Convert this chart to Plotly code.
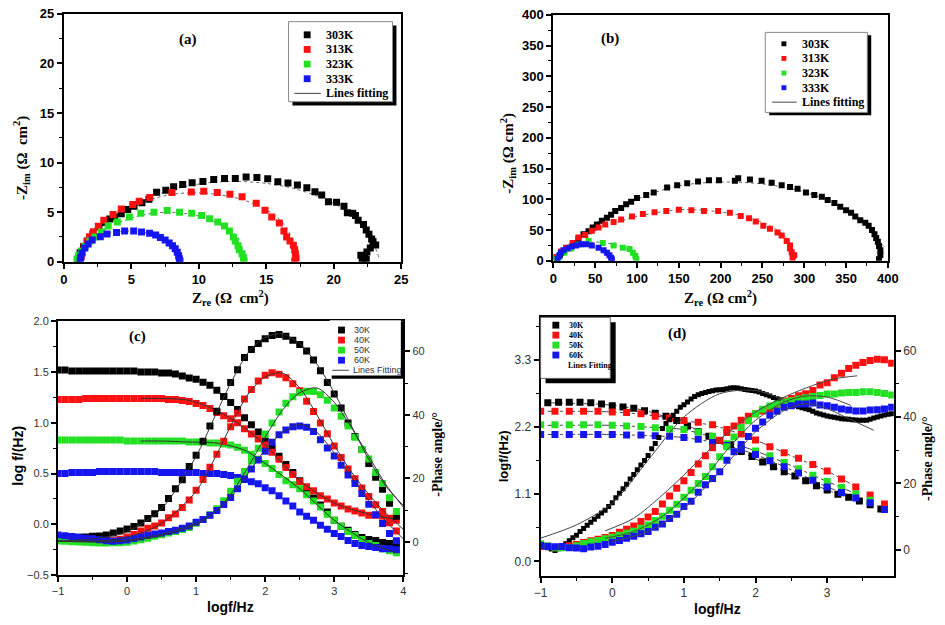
import plotly.graph_objects as go
import numpy as np

W, H = 945, 625
BLK, RED, GRN, BLU = "#000000", "#FF1010", "#22E022", "#1515F0"
SERIF = "Liberation Serif"
SANS = "Liberation Sans"

# ---------------- Panel (a): Nyquist, Zre / -Zim ----------------
a303_re = [1.05,1.2,1.45,1.75,2.15,2.6,3.0,3.4,3.76,4.25,4.73,5.2,5.78,6.3,6.87,7.55,8.13,8.8,9.5,10.3,11.1,11.9,12.7,13.5,14.3,15.1,15.85,16.6,17.3,18.0,18.6,19.1,19.6,20.2,20.75,21.0,21.4,21.6,21.8,22.2,22.4,22.6,22.8,22.9,23.1,22.7,22.45,22.3,22.0,22.4,22.1]
a303_im = [0.3,0.9,1.5,2.1,2.8,3.5,3.95,4.3,4.5,4.84,5.26,5.6,5.95,6.3,7.0,7.2,7.57,7.8,7.96,8.1,8.3,8.4,8.4,8.55,8.5,8.36,8.06,7.93,7.73,7.47,7.07,6.74,6.05,6.0,5.6,4.93,4.9,4.67,4.18,3.75,3.2,2.76,2.3,2.04,1.7,1.38,0.99,0.56,0.66,0.23,0.13]
a313_re = [1.29,1.33,1.5,1.7,1.9,2.18,2.55,2.96,3.64,4.25,5.1,5.58,6.36,8.0,9.44,10.36,11.36,12.3,13.2,14.25,14.9,15.4,15.96,16.3,16.5,16.75,17.0,17.1,17.15,17.2,17.1]
a313_im = [0.56,1.05,1.55,2.04,2.53,3.03,3.59,4.18,4.77,5.33,5.76,6.09,6.48,6.97,7.04,7.1,6.97,6.8,6.55,5.9,5.2,4.5,3.9,3.1,2.5,2.1,1.65,1.2,0.8,0.4,0.07]
a323_re = [0.97,1.1,1.29,1.58,1.94,2.3,2.79,3.28,3.96,4.85,5.7,6.67,7.65,8.57,9.47,10.2,10.8,11.4,11.9,12.26,12.55,12.7,12.9,13.0,13.2,13.3,13.35]
a323_im = [0.23,0.66,1.05,1.55,2.1,2.5,3.0,3.6,4.0,4.5,4.9,5.0,5.16,5.0,4.9,4.67,4.34,4.0,3.6,3.1,2.5,2.1,1.6,1.2,0.8,0.4,0.07]
a333_re = [1.21,1.25,1.35,1.55,1.8,2.1,2.7,3.2,3.9,4.5,5.17,5.75,6.35,6.8,7.15,7.5,7.8,8.05,8.25,8.4,8.5,8.55,8.6]
a333_im = [0.07,0.46,0.89,1.38,1.78,2.2,2.53,2.8,2.96,3.09,3.09,3.0,2.86,2.7,2.45,2.2,1.9,1.6,1.3,0.95,0.6,0.3,0.07]
a303_fit_re = [1.0,2.0,3.5,5.0,7.0,9.0,11.0,13.0,15.0,17.0,19.0,20.5,21.5,22.4,23.0,23.4]
a303_fit_im = [0.0,3.0,4.6,5.6,6.8,7.6,8.0,8.1,7.9,7.4,6.5,5.5,4.5,2.9,1.6,0.2]
a313_fit_re = [1.0,1.5,2.5,4.0,6.0,8.0,9.5,11.0,13.0,14.5,15.7,16.5,17.0,17.3]
a313_fit_im = [0.0,1.8,3.5,4.9,6.1,6.8,6.95,6.85,6.35,5.6,4.6,3.4,2.0,0.3]
a323_fit_re = [1.0,1.5,2.5,4.0,5.5,7.0,8.5,10.0,11.2,12.2,12.8,13.1,13.3]
a323_fit_im = [0.0,1.5,2.8,3.9,4.6,4.95,4.95,4.6,4.0,3.1,2.1,1.0,0.1]
a333_fit_re = [1.2,1.6,2.5,3.5,4.5,5.5,6.5,7.3,7.9,8.3,8.55]
a333_fit_im = [0.0,1.3,2.4,2.9,3.08,3.05,2.75,2.2,1.5,0.8,0.1]

# ---------------- Panel (b): Nyquist ----------------
b303_re = [4,8,13,19,25,30,36,42,47,52,58,64,69,74,81,87,93,100,111,120,136,148,160,173,186,198,217,221,235,249,261,273,283,292,302,312,321,328,336,343,350,356,361,367,373,377,381,384,386,388,389.4,391,391,389.4]
b303_im = [4,9.5,15,21,29,36,43,48,54,59,65,70,75,81,86,92,96,102,107,111,119,123,126,129,131,131,130,134,132,130,127,123,120,117,111,107,104,99,94,88,82,78,72,66,62,57,50,43,37,31,24,17,9.5,2.6]
b313_re = [3,9,15,23,30,38,46,54,62,72,81,94,107,121,135,150,165,180,197,211,224,234,242,251,259,268,273,279,283,283,285,288,286]
b313_im = [6,15,21,29,38,42,49,54,59,63,67,72,76,79,81,83,82,81,81,78,73,69,64,57,52,46,41,32,25,20,14,9,5]
b323_re = [4,7,13,21,30,42,59,72,83,91,95,98,99]
b323_im = [3,6,13,20,26,32,29,25,21,19,13,8,2.6]
b333_re = [5,7,9,12,17,22,27,33,39,46,54,60,64,67,69,70]
b333_im = [3,8,13,17,20,23,25,27,27,25,21,17,13,9,5,2]
b303_fit_re = [20,50,100,150,200,250,300,340,370,385,397]
b303_fit_im = [25,60,100,122,128,125,112,90,62,38,21]
b313_fit_re = [30,60,100,150,180,220,250,270,283,288]
b313_fit_im = [35,55,72,83,82,75,62,48,30,10]
b323_fit_re = [30,45,60,75,90,100]
b323_fit_im = [28,30,30,25,17,3]

# ---------------- Panel (c): Bode ----------------
c_logf = np.round(np.arange(-1.0, 3.95, 0.1), 2)
c30_mod = [1.52,1.52,1.51,1.51,1.51,1.51,1.51,1.51,1.51,1.51,1.51,1.51,1.50,1.50,
           1.50,1.49,1.49,1.48,1.46,1.44,1.43,1.40,1.37,1.32,1.26,1.20,1.13,1.05,0.98,0.91,0.82,0.75,0.67,0.59,0.51,0.43,0.33,0.26,0.19,0.12,0.04,-0.02,-0.06,-0.10,-0.13,-0.15,-0.16,-0.18,-0.19,-0.19]
c40_mod = [1.23,1.23,1.23,1.23,1.24,1.24,1.24,1.24,1.24,1.24,1.24,1.24,1.24,1.24,1.24,1.24,1.23,
           1.23,1.22,1.21,1.19,1.17,1.14,1.10,1.07,1.04,1.00,0.94,0.89,0.84,0.78,0.71,0.64,0.56,0.49,0.42,0.37,0.33,0.28,0.25,0.21,0.18,0.15,0.13,0.11,0.09,0.09,0.08,0.06,0.04]
c50_mod = [0.83,0.83,0.83,0.83,0.83,0.83,0.83,0.83,0.83,0.83,0.82,0.82,0.82,0.82,0.82,0.82,
           0.82,0.82,0.82,0.81,0.81,0.81,0.80,0.80,0.79,0.78,0.76,0.73,0.69,0.64,0.60,0.55,0.49,0.43,0.39,0.35,0.29,0.23,0.17,0.10,0.04,-0.02,-0.07,-0.11,-0.15,-0.19,-0.21,-0.24,-0.26,-0.28]
c60_mod = [0.50,0.50,0.51,0.51,0.51,0.51,0.52,0.52,0.52,0.52,0.52,0.52,0.52,0.52,0.52,0.51,0.51,
           0.51,0.51,0.51,0.51,0.50,0.50,0.50,0.49,0.48,0.46,0.44,0.42,0.40,0.36,0.33,0.28,0.23,0.18,0.12,0.08,0.04,-0.01,-0.05,-0.09,-0.12,-0.16,-0.19,-0.21,-0.22,-0.23,-0.24,-0.24,-0.25]
c30_phase = [1.5,1.4,1.4,1.5,1.6,1.8,1.9,2.2,2.8,3.5,4.1,4.9,6.0,7.4,8.9,10.9,13.7,16.8,19.6,23.8,27.3,31.7,36.5,41.2,45.8,50.2,54.2,58.1,60.6,62.5,64.0,65.0,65.3,64.8,63.5,62.2,60.1,57.3,53.9,50.2,46.6,42.2,37.5,33.2,29.1,24.7,20.4,16.6,12.2,8.1]
c40_phase = [0.8,0.6,0.5,0.3,0.2,0.1,0.0,0.2,0.4,0.9,1.6,2.4,3.5,4.3,5.0,6.0,7.6,8.8,10.9,13.2,16.3,19.7,23.5,27.6,31.7,36.3,40.5,45.0,48.0,50.7,52.5,53.3,52.8,51.7,49.8,47.6,44.3,41.1,37.5,34.1,30.2,26.6,23.0,19.9,17.0,14.3,11.7,9.6,6.1,3.5]
c50_phase = [0.3,0.2,0.1,0.0,-0.1,-0.2,-0.3,-0.3,-0.2,-0.2,-0.1,0.3,0.7,1.2,1.8,2.3,2.8,3.3,3.9,4.6,5.9,7.1,8.6,10.5,13.0,16.0,19.1,22.2,25.5,29.5,34.0,37.5,40.9,43.7,45.7,47.1,47.5,47.4,46.4,44.6,42.2,39.6,36.5,33.0,29.1,26.1,21.9,18.4,13.9,9.6]
c60_phase = [2.2,2.0,1.7,1.5,1.2,1.0,0.7,0.4,0.2,0.4,0.6,1.1,1.6,2.1,2.5,2.8,3.3,3.7,4.3,5.0,6.2,7.1,8.4,9.9,11.8,14.0,16.8,19.9,23.0,25.8,28.6,31.4,33.8,35.3,36.3,36.5,36.1,34.8,32.2,29.6,27.1,24.2,21.1,18.4,15.3,11.9,8.6,5.8,2.7,0.4]
c_fit_logf = [-1.0,-0.5,0.0,0.5,1.0,1.25,1.5,1.75,2.0,2.25,2.5,2.75,3.0,3.25,3.5,3.75,4.0]
c30_phase_fit = [0.3,1.0,3.2,10.5,27.0,38.5,50.0,59.5,64.5,65.5,62.5,56.0,47.0,36.5,26.0,17.5,11.5]
c40_phase_fit = [0.3,0.2,1.5,5.8,16.0,25.5,36.5,46.5,52.0,53.2,48.5,40.0,30.5,22.0,15.0,9.0,4.0]
c50_phase_fit = [0.3,0.0,0.3,2.0,5.5,9.0,15.0,23.5,33.0,41.5,47.0,48.5,44.0,36.0,27.0,18.0,11.0]
c60_phase_fit = [0.3,0.3,0.6,2.5,6.0,9.0,14.0,21.5,29.0,34.5,37.0,34.5,28.0,20.5,13.0,6.5,1.0]
c_modfit_logf = [0.2, 0.5, 0.9, 1.3, 1.7, 2.0, 2.5, 3.0, 3.5, 3.9]
c40_mod_fit = [1.24,1.24,1.22,1.12,0.95,0.78,0.43,0.21,0.10,0.05]
c50_mod_fit = [0.82,0.82,0.81,0.80,0.73,0.60,0.35,0.04,-0.18,-0.28]

# ---------------- Panel (d): Bode ----------------
d30_phase_logf = np.round(np.arange(-1.0, 3.92, 0.05), 2)
d30_phase = [1.5,1.0,0.6,0.2,-0.2,0.3,1.0,1.8,2.7,3.6,4.4,5.5,6.4,7.4,8.3,9.2,10.1,11.1,11.9,13.0,
             14.2,15.7,17.0,18.4,19.7,21.3,22.7,24.1,25.5,26.9,28.4,30.4,32.0,33.8,36.5,38.0,39.2,40.5,41.7,42.9,
             43.7,44.5,45.4,46.2,46.7,47.1,47.4,47.7,47.9,48.1,48.2,48.3,48.5,48.7,48.8,48.7,48.5,48.3,48.1,48.0,
             47.8,47.5,47.1,46.7,46.3,45.9,45.5,45.2,44.9,44.5,44.0,43.5,43.1,42.8,42.5,42.2,41.7,41.2,40.9,40.6,
             40.3,40.1,39.9,39.7,39.5,39.4,39.3,39.2,39.1,39.0,39.0,39.0,39.3,39.7,40.0,40.3,40.6,40.8,41.0]
d_phase_logf = np.round(np.arange(-1.0, 3.95, 0.1), 2)
d40_phase = [1.0,1.1,0.6,0.9,1.2,1.6,2.2,2.7,3.2,3.7,4.3,5.3,6.2,7.2,8.5,9.9,11.5,13.8,16.2,18.5,20.8,23.3,25.8,28.3,30.7,33.0,35.3,37.3,39.0,40.2,41.0,41.8,42.5,43.7,44.8,45.6,46.4,47.0,48.0,49.6,50.3,51.8,53.2,54.6,55.6,56.4,57.0,57.4,57.2,56.2]
d50_phase = [1.8,1.2,0.6,0.6,0.7,1.2,1.9,2.4,2.8,3.3,3.8,4.4,5.0,5.6,6.5,7.5,8.8,10.1,11.9,13.7,15.8,17.9,20.0,22.1,25.0,28.0,31.0,34.0,36.8,38.9,41.0,42.3,43.3,43.9,44.5,44.9,45.4,45.8,46.2,46.5,46.9,46.9,47.2,47.4,47.4,47.6,47.6,47.4,47.1,46.6]
d60_phase = [1.3,1.0,0.9,1.0,0.6,0.5,0.3,0.8,1.1,1.6,2.3,2.8,3.5,4.1,4.8,5.5,6.8,7.8,9.4,10.7,13.0,14.6,17.3,19.6,21.5,23.5,27.0,29.5,31.7,34.1,36.6,38.5,40.5,41.7,42.9,43.4,43.9,43.9,44.2,43.6,43.4,42.9,42.4,42.1,41.8,41.8,42.1,42.2,42.4,42.9]
d30_mod_logf = [-0.9,-0.75,-0.6,-0.45,-0.3,-0.15,0.0,0.15,0.3,0.45,0.6,0.75,0.9,1.05,1.2,1.35,1.5,1.65,1.8,1.95,2.1,2.25,2.4,2.55,2.7,2.85,3.0,3.15,3.3,3.45,3.6,3.75]
d30_mod = [2.60,2.61,2.61,2.61,2.60,2.58,2.55,2.53,2.51,2.47,2.43,2.38,2.31,2.22,2.13,2.05,1.98,1.91,1.80,1.72,1.63,1.55,1.47,1.40,1.32,1.24,1.17,1.10,1.05,0.99,0.93,0.86]
d_mod_logf = [-1.0,-0.8,-0.6,-0.4,-0.2,0.0,0.2,0.4,0.6,0.8,1.0,1.2,1.4,1.6,1.8,2.0,2.2,2.4,2.6,2.8,3.0,3.2,3.4,3.6,3.8]
d40_mod = [2.46,2.46,2.46,2.46,2.46,2.45,2.44,2.42,2.38,2.35,2.31,2.28,2.24,2.16,2.09,1.99,1.88,1.78,1.69,1.59,1.48,1.35,1.22,1.09,0.94]
d50_mod = [2.24,2.24,2.24,2.24,2.24,2.23,2.22,2.21,2.19,2.17,2.16,2.12,2.05,1.93,1.87,1.81,1.73,1.62,1.52,1.41,1.31,1.21,1.11,1.00]
d60_mod = [2.08,2.08,2.08,2.08,2.08,2.08,2.07,2.07,2.06,2.05,2.03,2.00,1.95,1.90,1.84,1.75,1.65,1.55,1.45,1.33,1.22,1.13,1.04,0.96,0.85]
d30_phase_fit_logf = [-1.0,-0.5,0.0,0.5,1.0,1.5,2.0,2.4]
d30_phase_fit = [3.5,7.5,14.0,27.0,40.0,47.0,48.0,45.0]
d40_phase_fit_logf = [-0.1,0.3,0.7,1.0,1.3,1.6,2.0,2.4,2.8,3.1,3.42]
d40_phase_fit = [5.7,9.5,16.5,22.5,29.0,35.0,41.5,46.0,49.5,51.5,52.4]
d50_phase_fit_logf = [-0.1,0.3,0.7,1.0,1.3,1.6,2.0,2.4,2.7,3.0,3.33]
d50_phase_fit = [3.5,5.5,10.0,15.5,22.0,30.0,39.0,44.5,46.3,46.0,43.5]
d60_phase_fit_logf = [0.0,0.5,1.0,1.5,2.0,2.4,2.7,3.0,3.3,3.65]
d60_phase_fit = [2.5,5.5,12.5,23.5,35.5,42.0,44.0,42.5,39.5,36.0]
d_modfit_logf = [-0.9,0.0,0.5,1.0,1.5,2.0,2.5,3.0,3.42]
d30_mod_fit = [2.60,2.56,2.46,2.25,1.98,1.68,1.42,1.17,0.99]
d40_mod_fit = [2.46,2.45,2.40,2.31,2.20,1.99,1.73,1.48,1.21]
d50_mod_fit = [2.23,2.23,2.20,2.16,2.00,1.81,1.57,1.31,1.10]
d60_mod_fit = [2.08,2.08,2.06,2.03,1.93,1.75,1.50,1.22,1.04]

legend_ab = ["303K", "313K", "323K", "333K", "Lines fitting"]
legend_c = ["30K", "40K", "50K", "60K", "Lines Fitting"]
legend_d = ["30K", "40K", "50K", "60K", "Lines Fitting"]
COLORS = [BLK, RED, GRN, BLU]

fig = go.Figure()

def sq(x, y, color, xa, ya, size=7):
    fig.add_trace(go.Scatter(x=x, y=y, mode="markers", xaxis=xa, yaxis=ya, showlegend=False,
                             marker=dict(symbol="square", size=size, color=color, line=dict(width=0))))

def ln(x, y, xa, ya, color="#555555", dash="solid", width=1):
    fig.add_trace(go.Scatter(x=x, y=y, mode="lines", xaxis=xa, yaxis=ya, showlegend=False,
                             line=dict(color=color, width=width, dash=dash, shape="spline", smoothing=0.8)))

# (a)
for fx_, fy_ in [(a303_fit_re, a303_fit_im), (a313_fit_re, a313_fit_im), (a323_fit_re, a323_fit_im), (a333_fit_re, a333_fit_im)]:
    ln(fx_, fy_, "x", "y", color="#666666", dash="dot")
sq(a303_re, a303_im, BLK, "x", "y")
sq(a313_re, a313_im, RED, "x", "y")
sq(a323_re, a323_im, GRN, "x", "y")
sq(a333_re, a333_im, BLU, "x", "y")
# (b)
for fx_, fy_ in [(b303_fit_re, b303_fit_im), (b313_fit_re, b313_fit_im), (b323_fit_re, b323_fit_im)]:
    ln(fx_, fy_, "x2", "y2", color="#666666", dash="dot")
sq(b303_re, b303_im, BLK, "x2", "y2", 6)
sq(b313_re, b313_im, RED, "x2", "y2", 6)
sq(b323_re, b323_im, GRN, "x2", "y2", 6)
sq(b333_re, b333_im, BLU, "x2", "y2", 6)
# (c)
for mod, col in [(c30_mod, BLK), (c40_mod, RED), (c50_mod, GRN), (c60_mod, BLU)]:
    sq(c_logf, mod, col, "x3", "y3")
for ph, col in [(c30_phase, BLK), (c40_phase, RED), (c50_phase, GRN), (c60_phase, BLU)]:
    sq(c_logf, ph, col, "x3", "y4")
for f in [c30_phase_fit, c40_phase_fit, c50_phase_fit, c60_phase_fit]:
    ln(c_fit_logf, f, "x3", "y4", color="#333333", width=1)
for f in [c40_mod_fit, c50_mod_fit]:
    ln(c_modfit_logf, f, "x3", "y3", color="#333333", width=1)
# (d)
for f in [d30_mod_fit, d40_mod_fit, d50_mod_fit, d60_mod_fit]:
    ln(d_modfit_logf, f, "x4", "y5", color="#444444", dash="dashdot", width=1)
sq(d30_mod_logf, d30_mod, BLK, "x4", "y5", 7)
sq(d_mod_logf, d40_mod, RED, "x4", "y5", 7)
sq(d_mod_logf[:len(d50_mod)], d50_mod, GRN, "x4", "y5", 7)
sq(d_mod_logf, d60_mod, BLU, "x4", "y5", 7)
sq(d30_phase_logf, d30_phase, BLK, "x4", "y6", 5)
sq(d_phase_logf, d40_phase, RED, "x4", "y6", 7)
sq(d_phase_logf, d50_phase, GRN, "x4", "y6", 7)
sq(d_phase_logf, d60_phase, BLU, "x4", "y6", 7)
for fx_, fy_ in [(d30_phase_fit_logf, d30_phase_fit), (d40_phase_fit_logf, d40_phase_fit),
                 (d50_phase_fit_logf, d50_phase_fit), (d60_phase_fit_logf, d60_phase_fit)]:
    ln(fx_, fy_, "x4", "y6", color="#444444", width=1)

def px(x):
    return x / W
def py(y):
    return 1 - y / H

def axis(dom, anchor, rng, dtick=None, minor_dtick=None, font=None, side=None, overlay=None,
         tickvals=None, ticktext=None, minor_vals=None, fmt=None, mirror=True, showline=True):
    d = dict(range=rng, anchor=anchor, showgrid=False, zeroline=False, showline=showline,
             linecolor="black", linewidth=2, mirror=mirror, ticks="outside", ticklen=5, tickwidth=1.5,
             tickcolor="black", tickfont=font, fixedrange=True)
    if dom is not None:
        d["domain"] = dom
    if dtick is not None:
        d["dtick"] = dtick
        d["tick0"] = 0
    if tickvals is not None:
        d["tickmode"] = "array"
        d["tickvals"] = tickvals
        if ticktext is not None:
            d["ticktext"] = ticktext
    if fmt:
        d["tickformat"] = fmt
    if minor_dtick is not None:
        d["minor"] = dict(ticks="outside", ticklen=3, tickwidth=1, tickcolor="black", dtick=minor_dtick, tick0=0)
    if minor_vals is not None:
        d["minor"] = dict(ticks="outside", ticklen=3, tickwidth=1, tickcolor="black", tickmode="array", tickvals=minor_vals)
    if side:
        d["side"] = side
    if overlay:
        d["overlaying"] = overlay
    return d

fab = dict(family=SANS, size=13, color="black", weight="bold")
fc = dict(family=SANS, size=11, color="#333333")
fd = dict(family=SANS, size=12, color="#333333")

layout = dict(
    width=W, height=H, margin=dict(l=0, r=0, t=0, b=0), paper_bgcolor="white", plot_bgcolor="white",
    xaxis=axis([px(58), px(402)], "y", [0, 25], 5, 2.5, fab),
    yaxis=axis([py(261), py(7)], "x", [0, 25], 5, 2.5, fab),
    xaxis2=axis([px(557), px(898)], "y2", [0, 400], 50, 25, fab),
    yaxis2=axis([py(260), py(8)], "x2", [0, 400], 50, 25, fab),
    xaxis3=axis([px(52), px(404)], "y3", [-1, 4], 1, 0.5, fc),
    yaxis3=axis([py(582), py(322)], "x3", [-0.5, 2.0], 0.5, 0.25, fc, fmt=".1f"),
    yaxis4=axis(None, "x3", [-10.4, 69.5], None, None, fc, side="right", overlay="y3",
                tickvals=[0, 20, 40, 60], minor_vals=[-10, 10, 30, 50]),
    xaxis4=axis([px(544), px(904)], "y5", [-1, 3.93], 1, 0.5, fd),
    yaxis5=axis([py(583), py(318)], "x4", [-0.24, 4.0], None, None, fd,
                tickvals=[0, 1.1, 2.2, 3.3], ticktext=["0.0", "1.1", "2.2", "3.3"], minor_vals=[0.55, 1.65, 2.75, 3.85]),
    yaxis6=axis(None, "x4", [-7.9, 70], None, None, fd, side="right", overlay="y5",
                tickvals=[0, 20, 40, 60], minor_vals=[10, 30, 50]),
)
fig.update_layout(**layout)

ann = []
shapes = []

def text(x, y, t, size, family, bold=True, color="black", angle=0, xanchor="center"):
    ann.append(dict(x=px(x), y=py(y), xref="paper", yref="paper", text=t, showarrow=False,
                    xanchor=xanchor, yanchor="middle", textangle=angle,
                    font=dict(size=size, family=family, color=color, weight="bold" if bold else "normal")))

def rect(x0, y0, x1, y1, fill, line_color=None, lw=0):
    shapes.append(dict(type="rect", xref="paper", yref="paper", x0=px(x0), x1=px(x1), y0=py(y1), y1=py(y0),
                       fillcolor=fill, line=dict(color=line_color or fill, width=lw), layer="above"))

def hline(x0, x1, y, color="#444444", w=1):
    shapes.append(dict(type="line", xref="paper", yref="paper", x0=px(x0), x1=px(x1), y0=py(y), y1=py(y),
                       line=dict(color=color, width=w), layer="above"))

# panel labels
text(185, 33, "(a)", 15, SERIF)
text(615, 32, "(b)", 15, SERIF)
text(133, 338, "(c)", 15, SERIF)
text(683, 335, "(d)", 15, SERIF)

# axis titles
text(228, 298, "Z<sub>re</sub> (Ω  cm<sup>2</sup>)", 15, SERIF)
text(15, 155, "-Z<sub>im</sub> (Ω  cm<sup>2</sup>)", 15, SERIF, angle=-90)
text(727, 298, "Z<sub>re</sub> (Ω cm<sup>2</sup>)", 15, SERIF)
text(511, 150, "-Z<sub>im</sub> (Ω cm<sup>2</sup>)", 15, SERIF, angle=-90)
text(228, 615, "logf/Hz", 14, SANS)
text(11, 460, "log f/(Hz)", 14, SANS, angle=-90)
text(438, 458, "-Phase angle/°", 14, SERIF, angle=-90)
text(724, 617, "logf/Hz", 14, SANS)
text(507, 460, "logf/(Hz)", 13, SANS, angle=-90)
text(939, 463, "-Phase angle/°", 14, SERIF, angle=-90)

# legend (a)
rect(291, 19, 397, 101, "black")
rect(287, 15, 393, 97, "white", "#888888", 1)
for i, (lab, col) in enumerate(zip(legend_ab[:4], COLORS)):
    y = 28.5 + i * 15
    rect(302.5, y - 3.5, 309.5, y + 3.5, col)
    text(323, y, lab, 12, SERIF, xanchor="left")
hline(293, 320, 88.5)
text(323, 88.5, legend_ab[4], 12, SERIF, xanchor="left")

# legend (b)
rect(777, 29, 881, 111, "black")
rect(773, 26, 877, 108, "white", "#888888", 1)
for i, (lab, col) in enumerate(zip(legend_ab[:4], COLORS)):
    y = 37.7 + i * 15
    rect(789.5, y - 2.5, 794.5, y + 2.5, col)
    text(808, y, lab, 12, SERIF, xanchor="left")
hline(780, 805, 97.5)
text(808, 97.5, legend_ab[4], 12, SERIF, xanchor="left")

# legend (c)
rect(331, 322, 405, 381, "black")
rect(329, 321, 401.5, 377.5, "white")
for i, (lab, col) in enumerate(zip(legend_c[:4], COLORS)):
    y = 331 + i * 10.3
    rect(337.5, y - 3.5, 344.5, y + 3.5, col)
    text(352, y, lab, 9, SANS, bold=False, color="#333333", xanchor="left")
hline(331.5, 348.5, 372.2)
text(351, 372.2, legend_c[4], 9, SANS, bold=False, color="#333333", xanchor="left")

# legend (d)
rect(549, 323, 620.5, 385.5, "black")
rect(544, 318, 615, 380.5, "white", "#666666", 1)
for i, (lab, col) in enumerate(zip(legend_d[:4], COLORS)):
    y = 326 + i * 10.2
    rect(556, y - 3.5, 563, y + 3.5, col)
    text(571, y, lab, 8, SERIF, xanchor="left")
text(570, 367, legend_d[4], 8, SERIF, xanchor="left")

fig.update_layout(annotations=ann, shapes=shapes)
fig.write_html("out.html")
